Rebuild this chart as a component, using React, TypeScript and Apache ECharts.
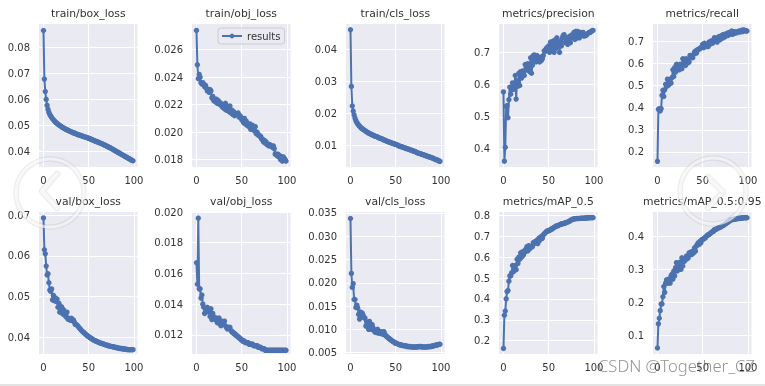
import React, { useEffect, useRef } from "react";
import * as echarts from "echarts";

const trainBox = [
  0.0864,0.0678,0.0630,0.0600,0.0577,0.0562,0.0550,0.0542,0.0536,0.0531,
  0.0526,0.0522,0.0518,0.0514,0.0511,0.0508,0.0505,0.0502,0.0500,0.0498,
  0.0495,0.0493,0.0491,0.0489,0.0487,0.0485,0.0483,0.0482,0.0480,0.0478,
  0.0477,0.0475,0.0474,0.0472,0.0471,0.0470,0.0468,0.0467,0.0465,0.0464,
  0.0463,0.0462,0.0461,0.0459,0.0458,0.0457,0.0456,0.0455,0.0454,0.0452,
  0.0451,0.0450,0.0448,0.0447,0.0445,0.0444,0.0442,0.0441,0.0439,0.0438,
  0.0437,0.0435,0.0434,0.0432,0.0431,0.0429,0.0428,0.0426,0.0424,0.0423,
  0.0421,0.0419,0.0417,0.0416,0.0414,0.0412,0.0410,0.0408,0.0406,0.0404,
  0.0402,0.0400,0.0398,0.0396,0.0394,0.0392,0.0390,0.0388,0.0386,0.0384,
  0.0382,0.0380,0.0378,0.0376,0.0374,0.0372,0.0370,0.0368,0.0366,0.0365,
];
const trainObj = [
  0.0274,0.0249,0.0239,0.0242,0.0240,0.0236,0.0235,0.0236,0.0235,0.0233,
  0.0234,0.0232,0.0230,0.0231,0.0229,0.0231,0.0230,0.0225,0.0226,0.0223,
  0.0224,0.0222,0.0224,0.0221,0.0223,0.0222,0.0220,0.0221,0.0219,0.0218,
  0.0220,0.0217,0.0221,0.0216,0.0219,0.0217,0.0215,0.0219,0.0214,0.0216,
  0.0213,0.0215,0.0212,0.0213,0.0213,0.0213,0.0214,0.0211,0.0212,0.0211,
  0.0209,0.0210,0.0207,0.0210,0.0206,0.0208,0.0205,0.0206,0.0204,0.0206,
  0.0202,0.0204,0.0205,0.0204,0.0201,0.0204,0.0199,0.0200,0.0198,0.0198,
  0.0197,0.0197,0.0195,0.0195,0.0193,0.0194,0.0192,0.0193,0.0191,0.0191,
  0.0190,0.0191,0.0190,0.0190,0.0189,0.0190,0.0188,0.0184,0.0184,0.0183,
  0.0184,0.0182,0.0183,0.0180,0.0182,0.0179,0.0182,0.0181,0.0180,0.0179,
];
const trainCls = [
  0.0462,0.0285,0.0224,0.0208,0.0196,0.0186,0.0178,0.0172,0.0168,0.0164,
  0.0161,0.0158,0.0155,0.0153,0.0151,0.0149,0.0147,0.0145,0.0143,0.0141,
  0.0140,0.0138,0.0137,0.0135,0.0134,0.0133,0.0131,0.0130,0.0129,0.0128,
  0.0127,0.0125,0.0124,0.0123,0.0122,0.0121,0.0119,0.0118,0.0117,0.0116,
  0.0114,0.0113,0.0112,0.0111,0.0110,0.0109,0.0108,0.0107,0.0106,0.0105,
  0.0104,0.0103,0.0102,0.0100,0.0099,0.0098,0.0097,0.0096,0.0095,0.0094,
  0.0093,0.0092,0.0091,0.0090,0.0089,0.0088,0.0087,0.0086,0.0085,0.0084,
  0.0083,0.0082,0.0081,0.0079,0.0078,0.0077,0.0076,0.0075,0.0074,0.0073,
  0.0072,0.0071,0.0070,0.0069,0.0068,0.0067,0.0066,0.0065,0.0064,0.0063,
  0.0062,0.0061,0.0060,0.0058,0.0057,0.0056,0.0055,0.0054,0.0052,0.0051,
];
const precision = [
  0.577,0.362,0.405,0.532,0.535,0.497,0.553,0.592,0.570,0.585,
  0.605,0.585,0.590,0.628,0.555,0.612,0.595,0.635,0.597,0.640,
  0.620,0.642,0.635,0.628,0.662,0.650,0.645,0.665,0.655,0.640,
  0.683,0.635,0.660,0.690,0.692,0.675,0.670,0.690,0.672,0.680,
  0.670,0.685,0.675,0.680,0.690,0.705,0.703,0.710,0.715,0.712,
  0.720,0.700,0.732,0.705,0.725,0.735,0.700,0.738,0.712,0.745,
  0.720,0.725,0.700,0.735,0.720,0.745,0.752,0.755,0.730,0.745,
  0.735,0.725,0.745,0.750,0.730,0.745,0.755,0.745,0.762,0.740,
  0.765,0.745,0.765,0.750,0.745,0.762,0.755,0.760,0.762,0.750,
  0.755,0.752,0.755,0.758,0.760,0.762,0.762,0.765,0.767,0.768,
];
const recall = [
  0.158,0.392,0.395,0.385,0.395,0.455,0.478,0.450,0.480,0.505,
  0.495,0.528,0.500,0.525,0.515,0.510,0.535,0.570,0.540,0.580,
  0.560,0.595,0.575,0.590,0.570,0.595,0.580,0.575,0.620,0.600,
  0.618,0.590,0.620,0.600,0.612,0.605,0.635,0.625,0.630,0.625,
  0.640,0.650,0.655,0.645,0.660,0.660,0.665,0.665,0.670,0.672,
  0.685,0.670,0.690,0.675,0.680,0.682,0.675,0.695,0.685,0.700,
  0.695,0.690,0.705,0.715,0.700,0.712,0.695,0.712,0.720,0.705,
  0.722,0.712,0.728,0.715,0.730,0.720,0.725,0.735,0.725,0.738,
  0.730,0.735,0.745,0.730,0.738,0.742,0.735,0.740,0.738,0.742,
  0.745,0.740,0.745,0.748,0.742,0.750,0.748,0.745,0.746,0.745,
];
const valBox = [
  0.0693,0.0615,0.0605,0.0575,0.0553,0.0556,0.0534,0.0516,0.0513,0.0519,
  0.0492,0.0503,0.0490,0.0497,0.0488,0.0494,0.0474,0.0484,0.0462,0.0470,
  0.0475,0.0458,0.0468,0.0455,0.0462,0.0450,0.0462,0.0445,0.0447,0.0443,
  0.0442,0.0447,0.0441,0.0443,0.0438,0.0432,0.0432,0.0430,0.0428,0.0425,
  0.0422,0.0420,0.0417,0.0415,0.0413,0.0411,0.0409,0.0407,0.0405,0.0403,
  0.0402,0.0400,0.0399,0.0397,0.0396,0.0394,0.0393,0.0392,0.0391,0.0390,
  0.0389,0.0388,0.0387,0.0386,0.0385,0.0385,0.0384,0.0383,0.0382,0.0382,
  0.0381,0.0380,0.0380,0.0379,0.0378,0.0378,0.0377,0.0377,0.0376,0.0376,
  0.0375,0.0375,0.0374,0.0374,0.0373,0.0373,0.0373,0.0372,0.0372,0.0372,
  0.0371,0.0371,0.0371,0.0370,0.0370,0.0370,0.0370,0.0370,0.0370,0.0370,
];
const valObj = [
  0.0167,0.0153,0.0196,0.0150,0.0150,0.0144,0.0146,0.0140,0.0138,0.0134,
  0.0137,0.0135,0.0138,0.0136,0.0135,0.0132,0.0137,0.0130,0.0134,0.0132,
  0.0131,0.0130,0.0131,0.0128,0.0129,0.0131,0.0127,0.0126,0.0129,0.0127,
  0.0128,0.0129,0.0126,0.0125,0.0124,0.0125,0.0124,0.0125,0.0123,0.0122,
  0.0122,0.0121,0.0121,0.0120,0.0120,0.0119,0.0119,0.0118,0.0118,0.0117,
  0.0117,0.0116,0.0116,0.0116,0.0115,0.0115,0.0115,0.0115,0.0114,0.0114,
  0.0114,0.0114,0.0114,0.0113,0.0113,0.0113,0.0113,0.0113,0.0112,0.0112,
  0.0112,0.0112,0.0111,0.0111,0.0111,0.0111,0.0110,0.0110,0.0110,0.0110,
  0.0110,0.0110,0.0110,0.0110,0.0110,0.0110,0.0110,0.0110,0.0110,0.0110,
  0.0110,0.0110,0.0110,0.0110,0.0110,0.0110,0.0110,0.0110,0.0110,0.0110,
];
const valCls = [
  0.0338,0.0220,0.0190,0.0198,0.0164,0.0164,0.0147,0.0152,0.0146,0.0132,
  0.0122,0.0137,0.0127,0.0135,0.0130,0.0125,0.0124,0.0107,0.0116,0.0105,
  0.0100,0.0117,0.0108,0.0100,0.0110,0.0103,0.0097,0.0094,0.0098,0.0093,
  0.0100,0.0092,0.0095,0.0091,0.0095,0.0092,0.0089,0.0095,0.0090,0.0086,
  0.0085,0.0083,0.0081,0.0080,0.0078,0.0077,0.0075,0.0074,0.0073,0.0071,
  0.0070,0.0070,0.0069,0.0068,0.0067,0.0067,0.0066,0.0066,0.0065,0.0065,
  0.0065,0.0064,0.0064,0.0063,0.0063,0.0063,0.0063,0.0062,0.0062,0.0062,
  0.0062,0.0062,0.0062,0.0062,0.0062,0.0063,0.0063,0.0063,0.0063,0.0062,
  0.0062,0.0062,0.0062,0.0062,0.0062,0.0062,0.0063,0.0063,0.0063,0.0063,
  0.0064,0.0064,0.0065,0.0065,0.0066,0.0066,0.0067,0.0067,0.0068,0.0068,
];
const map50 = [
  0.163,0.322,0.342,0.400,0.435,0.440,0.485,0.510,0.510,0.525,
  0.560,0.530,0.545,0.560,0.540,0.590,0.570,0.600,0.590,0.620,
  0.600,0.625,0.610,0.630,0.625,0.640,0.650,0.630,0.655,0.640,
  0.645,0.650,0.650,0.670,0.665,0.675,0.670,0.680,0.665,0.690,
  0.680,0.695,0.700,0.690,0.705,0.712,0.715,0.720,0.725,0.725,
  0.725,0.730,0.730,0.735,0.735,0.740,0.742,0.745,0.748,0.750,
  0.750,0.752,0.755,0.757,0.758,0.760,0.760,0.762,0.763,0.765,
  0.766,0.768,0.770,0.772,0.775,0.778,0.780,0.782,0.783,0.784,
  0.784,0.785,0.785,0.785,0.785,0.786,0.786,0.786,0.786,0.786,
  0.787,0.787,0.788,0.788,0.788,0.789,0.789,0.789,0.789,0.789,
];
const map5095 = [
  0.062,0.135,0.152,0.175,0.195,0.195,0.217,0.248,0.230,0.258,
  0.268,0.258,0.270,0.260,0.258,0.280,0.285,0.270,0.295,0.280,
  0.305,0.320,0.295,0.315,0.305,0.322,0.300,0.335,0.310,0.325,
  0.325,0.330,0.340,0.332,0.335,0.350,0.345,0.352,0.345,0.355,
  0.350,0.365,0.355,0.370,0.375,0.380,0.375,0.385,0.380,0.390,
  0.390,0.392,0.395,0.395,0.400,0.402,0.405,0.405,0.408,0.410,
  0.412,0.415,0.415,0.420,0.420,0.422,0.423,0.425,0.426,0.427,
  0.428,0.430,0.432,0.433,0.435,0.437,0.439,0.441,0.443,0.445,
  0.447,0.449,0.450,0.451,0.451,0.452,0.452,0.453,0.453,0.454,
  0.454,0.454,0.455,0.455,0.455,0.456,0.456,0.456,0.456,0.456,
];

const xTicks = [0, 50, 100];
const panels = [
  { title: "train/box_loss", data: trainBox, ticks: [0.04, 0.05, 0.06, 0.07, 0.08], dec: 2, min: 0.0341, max: 0.0889, col: 0, row: 0 },
  { title: "train/obj_loss", data: trainObj, ticks: [0.018, 0.02, 0.022, 0.024, 0.026], dec: 3, min: 0.01747, max: 0.02787, col: 1, row: 0 },
  { title: "train/cls_loss", data: trainCls, ticks: [0.01, 0.02, 0.03, 0.04], dec: 2, min: 0.00334, max: 0.048, col: 2, row: 0 },
  { title: "metrics/precision", data: precision, ticks: [0.4, 0.5, 0.6, 0.7], dec: 1, min: 0.344, max: 0.788, col: 3, row: 0 },
  { title: "metrics/recall", data: recall, ticks: [0.2, 0.3, 0.4, 0.5, 0.6, 0.7], dec: 1, min: 0.1324, max: 0.7766, col: 4, row: 0 },
  { title: "val/box_loss", data: valBox, ticks: [0.04, 0.05, 0.06, 0.07], dec: 2, min: 0.03593, max: 0.07076, col: 0, row: 1 },
  { title: "val/obj_loss", data: valObj, ticks: [0.012, 0.014, 0.016, 0.018, 0.02], dec: 3, min: 0.01076, max: 0.02, col: 1, row: 1 },
  { title: "val/cls_loss", data: valCls, ticks: [0.005, 0.01, 0.015, 0.02, 0.025, 0.03, 0.035], dec: 3, min: 0.0047, max: 0.0352, col: 2, row: 1 },
  { title: "metrics/mAP_0.5", data: map50, ticks: [0.2, 0.3, 0.4, 0.5, 0.6, 0.7, 0.8], dec: 1, min: 0.1365, max: 0.816, col: 3, row: 1 },
  { title: "metrics/mAP_0.5:0.95", data: map5095, ticks: [0.1, 0.2, 0.3, 0.4], dec: 1, min: 0.0438, max: 0.4734, col: 4, row: 1 },
];

const colLeft = [39, 192, 346, 499, 653];
const panelW = 98.5;
const rowTop = [24, 212];
const panelH = [143, 142];
const FONT = "'DejaVu Sans', sans-serif";
const BLUE = "#4c72b0";
const TEXT = "#333333";
const WM = "rgba(255,255,255,0.62)";
const WM_EDGE = "rgba(140,140,140,0.16)";

export default function App() {
  const ref = useRef<HTMLDivElement>(null);
  useEffect(() => {
    document.body.style.margin = "0";
    const chart = echarts.init(ref.current!, null, { renderer: "svg" });
    const option: any = {
      animation: false,
      backgroundColor: "#ffffff",
      title: panels.map((p) => ({
        text: p.title,
        left: colLeft[p.col] + panelW / 2,
        top: p.row === 0 ? 8 : 196,
        textAlign: "center",
        padding: 0,
        textStyle: { fontFamily: FONT, fontSize: 10.8, fontWeight: "normal", color: TEXT },
      })),
      grid: panels.map((p) => ({
        left: colLeft[p.col],
        top: rowTop[p.row],
        width: panelW,
        height: panelH[p.row],
        show: true,
        backgroundColor: "#eaeaf2",
        borderWidth: 0,
      })),
      xAxis: panels.map((_, i) => ({
        type: "value",
        gridIndex: i,
        min: -4.95,
        max: 103.95,
        axisLine: { show: false },
        axisTick: { show: false, customValues: xTicks },
        axisLabel: {
          customValues: xTicks,
          margin: 8,
          fontFamily: FONT,
          fontSize: 10,
          color: TEXT,
          formatter: (v: number) => String(v),
        },
        splitLine: { show: true, lineStyle: { color: "#ffffff", width: 1 } },
      })),
      yAxis: panels.map((p, i) => ({
        type: "value",
        gridIndex: i,
        min: p.min,
        max: p.max,
        axisLine: { show: false },
        axisTick: { show: false, customValues: p.ticks },
        axisLabel: {
          customValues: p.ticks,
          margin: 9,
          fontFamily: FONT,
          fontSize: 10,
          color: TEXT,
          formatter: (v: number) => v.toFixed(p.dec),
        },
        splitLine: { show: true, lineStyle: { color: "#ffffff", width: 1 } },
      })),
      legend: {
        show: true,
        data: ["results"],
        left: 218,
        top: 28,
        orient: "horizontal",
        itemWidth: 20,
        itemHeight: 6,
        padding: [3, 4, 3, 3],
        backgroundColor: "rgba(234,234,242,0.8)",
        borderColor: "#cccccc",
        borderWidth: 1,
        borderRadius: 3,
        textStyle: { fontFamily: FONT, fontSize: 10, color: TEXT },
      },
      series: panels.map((p, i) => ({
        type: "line",
        name: i === 1 ? "results" : p.title,
        xAxisIndex: i,
        yAxisIndex: i,
        data: p.data.map((v, e) => [e, v]),
        symbol: "circle",
        symbolSize: 5.4,
        showSymbol: true,
        showAllSymbols: true,
        lineStyle: { color: BLUE, width: 2 },
        itemStyle: { color: BLUE },
      })),
      graphic: [
        { type: "circle", silent: true, z: 99, shape: { cx: 50, cy: 193, r: 34 }, style: { fill: "none", stroke: WM_EDGE, lineWidth: 5.5 } },
        { type: "circle", silent: true, z: 100, shape: { cx: 50, cy: 193, r: 34 }, style: { fill: "none", stroke: WM, lineWidth: 3 } },
        { type: "polyline", silent: true, z: 99, shape: { points: [[57, 174], [42, 191], [57, 208]] }, style: { fill: "none", stroke: WM_EDGE, lineWidth: 6.5, lineCap: "round", lineJoin: "round" } },
        { type: "polyline", silent: true, z: 100, shape: { points: [[57, 174], [42, 191], [57, 208]] }, style: { fill: "none", stroke: WM, lineWidth: 4, lineCap: "round", lineJoin: "round" } },
        { type: "circle", silent: true, z: 99, shape: { cx: 713, cy: 191, r: 33 }, style: { fill: "none", stroke: WM_EDGE, lineWidth: 5.5 } },
        { type: "circle", silent: true, z: 100, shape: { cx: 713, cy: 191, r: 33 }, style: { fill: "none", stroke: WM, lineWidth: 3 } },
        { type: "polyline", silent: true, z: 99, shape: { points: [[708, 177], [723, 192], [708, 208]] }, style: { fill: "none", stroke: WM_EDGE, lineWidth: 6.5, lineCap: "round", lineJoin: "round" } },
        { type: "polyline", silent: true, z: 100, shape: { points: [[708, 177], [723, 192], [708, 208]] }, style: { fill: "none", stroke: WM, lineWidth: 4, lineCap: "round", lineJoin: "round" } },
        { type: "text", silent: true, z: 100, x: 598, y: 357, style: { text: "CSDN @Together_CZ", font: "300 16.6px 'Noto Sans', sans-serif", fill: "rgba(110,110,110,0.75)" } },
        { type: "line", silent: true, z: 100, shape: { x1: 0, y1: 385, x2: 765, y2: 385 }, style: { stroke: "#c8c8c8", lineWidth: 1 } },
      ],
    };
    chart.setOption(option);
    return () => chart.dispose();
  }, []);
  return <div ref={ref} style={{ width: 765, height: 386, filter: "blur(0.45px)" }} />;
}
